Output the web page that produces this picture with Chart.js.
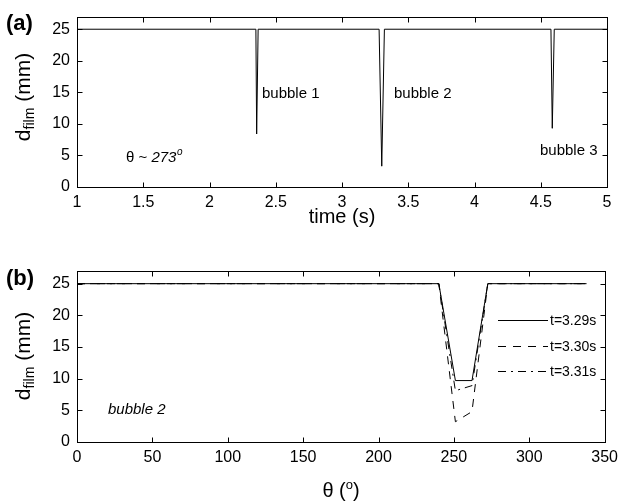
<!DOCTYPE html>
<html>
<head>
<meta charset="utf-8">
<script src="https://cdn.jsdelivr.net/npm/chart.js@4.4.1/dist/chart.umd.min.js"></script>
<style>
  html, body { margin: 0; padding: 0; background: #fff; }
  #wrap { position: relative; width: 624px; height: 501px; }
  canvas { position: absolute; left: 0; }
  #ca { top: 0; }
  #cb { top: 245px; }
</style>
</head>
<body>
<div id="wrap">
  <canvas id="ca" width="624" height="245" style="width:624px;height:245px"></canvas>
  <canvas id="cb" width="624" height="256" style="width:624px;height:256px"></canvas>
</div>
<script>
// (a) film thickness at theta ~ 273 deg versus time
const timeS   = [1, 2.35, 2.356, 2.367, 3.28, 3.30, 3.32, 4.577, 4.587, 4.602, 5];
const filmAt  = [25, 25, 8.4, 25, 25, 3.3, 25, 25, 9.3, 25, 25];

// (b) film thickness around the circumference for bubble 2
const thetaDeg = [0, 240, 251, 262, 272.5, 338];
const film329  = [25, 25, 9.7, 9.7, 25, 25];
const film330  = [25, 25, 3.2, 4.8, 25, 25];
const film331  = [25, 25, 8.1, 8.9, 25, 25];
const seriesLabels = ['t=3.29s', 't=3.30s', 't=3.31s'];

// axis ticks
const yTicks  = [0, 5, 10, 15, 20, 25];
const xTicksA = [1, 1.5, 2, 2.5, 3, 3.5, 4, 4.5, 5];
const xTicksB = [0, 50, 100, 150, 200, 250, 300, 350];

const FONT = "'Liberation Sans', Arial, Helvetica, sans-serif";

function pts(xs, ys) { return xs.map((x, i) => ({ x: x, y: ys[i] })); }

function fixedTicks(list) {
  return function (scale) { scale.ticks = list.map(v => ({ value: v })); };
}

// Box frame with inward tick marks on all four sides
const boxPlugin = {
  id: 'boxFrame',
  afterDatasetsDraw(chart) {
    const { ctx, chartArea: a, scales } = chart;
    const L = Math.round(a.left) + 0.5, R = Math.round(a.right) + 0.5;
    const T = Math.round(a.top) + 0.5, B = Math.round(a.bottom) + 0.5;
    ctx.save();
    ctx.strokeStyle = '#000';
    ctx.lineWidth = 1;
    ctx.setLineDash([]);
    ctx.strokeRect(L, T, R - L, B - T);
    const len = 5;
    ctx.beginPath();
    scales.x.ticks.forEach(t => {
      const px = Math.round(scales.x.getPixelForValue(t.value)) + 0.5;
      ctx.moveTo(px, B); ctx.lineTo(px, B - len);
      ctx.moveTo(px, T); ctx.lineTo(px, T + len);
    });
    scales.y.ticks.forEach(t => {
      const py = Math.round(scales.y.getPixelForValue(t.value)) + 0.5;
      ctx.moveTo(L, py); ctx.lineTo(L + len, py);
      ctx.moveTo(R, py); ctx.lineTo(R - len, py);
    });
    ctx.stroke();
    ctx.restore();
  }
};

function drawYTitle(ctx, cx, cy) {
  const big = '21px ' + FONT, small = '14px ' + FONT;
  ctx.save();
  ctx.translate(cx, cy);
  ctx.rotate(-Math.PI / 2);
  ctx.fillStyle = '#000';
  ctx.textBaseline = 'alphabetic';
  ctx.textAlign = 'left';
  ctx.font = big;  const w1 = ctx.measureText('d').width;
  const w3 = ctx.measureText(' (mm)').width;
  ctx.font = small; const w2 = ctx.measureText('film').width;
  let x = -(w1 + w2 + w3) / 2;
  ctx.font = big;   ctx.fillText('d', x, 0); x += w1;
  ctx.font = small; ctx.fillText('film', x, 4); x += w2;
  ctx.font = big;   ctx.fillText(' (mm)', x, 0);
  ctx.restore();
}

function text(ctx, str, x, y, font, align) {
  ctx.font = font;
  ctx.textAlign = align || 'left';
  ctx.fillText(str, x, y);
}

const labelsA = {
  id: 'labelsA',
  afterDraw(chart) {
    const ctx = chart.ctx;
    ctx.save();
    ctx.fillStyle = '#000';
    ctx.textBaseline = 'middle';
    text(ctx, '(a)', 6, 24, 'bold 22px ' + FONT);
    ctx.textBaseline = 'alphabetic';
    drawYTitle(ctx, 30, 97);
    text(ctx, 'time (s)', 342, 223, '20px ' + FONT, 'center');
    const f = '15px ' + FONT;
    text(ctx, 'bubble 1', 262, 98, f);
    text(ctx, 'bubble 2', 394, 98, f);
    text(ctx, 'bubble 3', 540, 155, f);
    // theta ~ 273 deg
    let x = 126;
    ctx.font = f; ctx.textAlign = 'left';
    ctx.fillText('\u03b8 ~ ', x, 162); x += ctx.measureText('\u03b8 ~ ').width;
    ctx.font = 'italic ' + f; ctx.fillText('273', x, 162); x += ctx.measureText('273').width;
    ctx.font = 'italic 10px ' + FONT; ctx.fillText('o', x + 0.5, 155);
    ctx.restore();
  }
};

const labelsB = {
  id: 'labelsB',
  afterDraw(chart) {
    const ctx = chart.ctx;
    ctx.save();
    ctx.fillStyle = '#000';
    ctx.textBaseline = 'middle';
    text(ctx, '(b)', 6, 33.5, 'bold 22px ' + FONT);
    ctx.textBaseline = 'alphabetic';
    drawYTitle(ctx, 30, 111);
    // theta (deg) axis title
    const big = '20px ' + FONT;
    ctx.font = big;
    const wA = ctx.measureText('\u03b8 (').width, wC = ctx.measureText(')').width;
    ctx.font = '13px ' + FONT; const wB = ctx.measureText('o').width;
    let x = 341 - (wA + wB + wC) / 2;
    const base = 251.5;
    ctx.font = big; ctx.textAlign = 'left'; ctx.fillText('\u03b8 (', x, base); x += wA;
    ctx.font = '13px ' + FONT; ctx.fillText('o', x, base - 8); x += wB;
    ctx.font = big; ctx.fillText(')', x, base);
    text(ctx, 'bubble 2', 108, 169, 'italic 15px ' + FONT);
    // legend
    const rows = [75, 101, 126];
    chart.data.datasets.forEach((ds, i) => {
      const y = rows[i] + 0.5;
      ctx.save();
      ctx.strokeStyle = ds.borderColor;
      ctx.lineWidth = ds.borderWidth;
      ctx.setLineDash(ds.borderDash || []);
      ctx.beginPath(); ctx.moveTo(498, y); ctx.lineTo(548, y); ctx.stroke();
      ctx.restore();
      ctx.textBaseline = 'middle';
      text(ctx, ds.label, 550, y + 1, '14px ' + FONT);
    });
    ctx.restore();
  }
};

function axisCommon(min, max, tickList, width, height, isX) {
  const o = {
    type: 'linear', min: min, max: max,
    grid: { display: false, drawTicks: false },
    border: { display: false },
    afterBuildTicks: fixedTicks(tickList),
    ticks: {
      autoSkip: false, maxRotation: 0, minRotation: 0,
      color: '#000', font: { family: FONT, size: 16 },
      padding: isX ? 6 : 7,
      callback: v => String(v)
    }
  };
  if (isX) o.afterFit = s => { s.height = height; };
  else o.afterFit = s => { s.width = width; };
  return o;
}

const lineDs = (label, ys, xs, dash) => ({
  label: label,
  data: pts(xs, ys),
  borderColor: '#000',
  borderWidth: 1,
  borderDash: dash,
  pointRadius: 0,
  tension: 0,
  fill: false
});

new Chart(document.getElementById('ca'), {
  type: 'line',
  data: { datasets: [lineDs('d_film', filmAt, timeS, [])] },
  options: {
    responsive: false, animation: false, events: [],
    layout: { padding: { left: 0, right: 17, top: 15, bottom: 0 } },
    plugins: { legend: { display: false }, tooltip: { enabled: false } },
    scales: {
      x: axisCommon(1, 5, xTicksA, 0, 58, true),
      y: axisCommon(0, 27, yTicks, 77, 0, false)
    }
  },
  plugins: [boxPlugin, labelsA]
});

new Chart(document.getElementById('cb'), {
  type: 'line',
  data: {
    datasets: [
      lineDs(seriesLabels[0], film329, thetaDeg, []),
      lineDs(seriesLabels[1], film330, thetaDeg, [8, 7]),
      lineDs(seriesLabels[2], film331, thetaDeg, [8, 5, 2, 5])
    ]
  },
  options: {
    responsive: false, animation: false, events: [],
    layout: { padding: { left: 0, right: 17, top: 26, bottom: 0 } },
    plugins: { legend: { display: false }, tooltip: { enabled: false } },
    scales: {
      x: axisCommon(0, 350, xTicksB, 0, 59, true),
      y: axisCommon(0, 27, yTicks, 77, 0, false)
    }
  },
  plugins: [boxPlugin, labelsB]
});
</script>
</body>
</html>
